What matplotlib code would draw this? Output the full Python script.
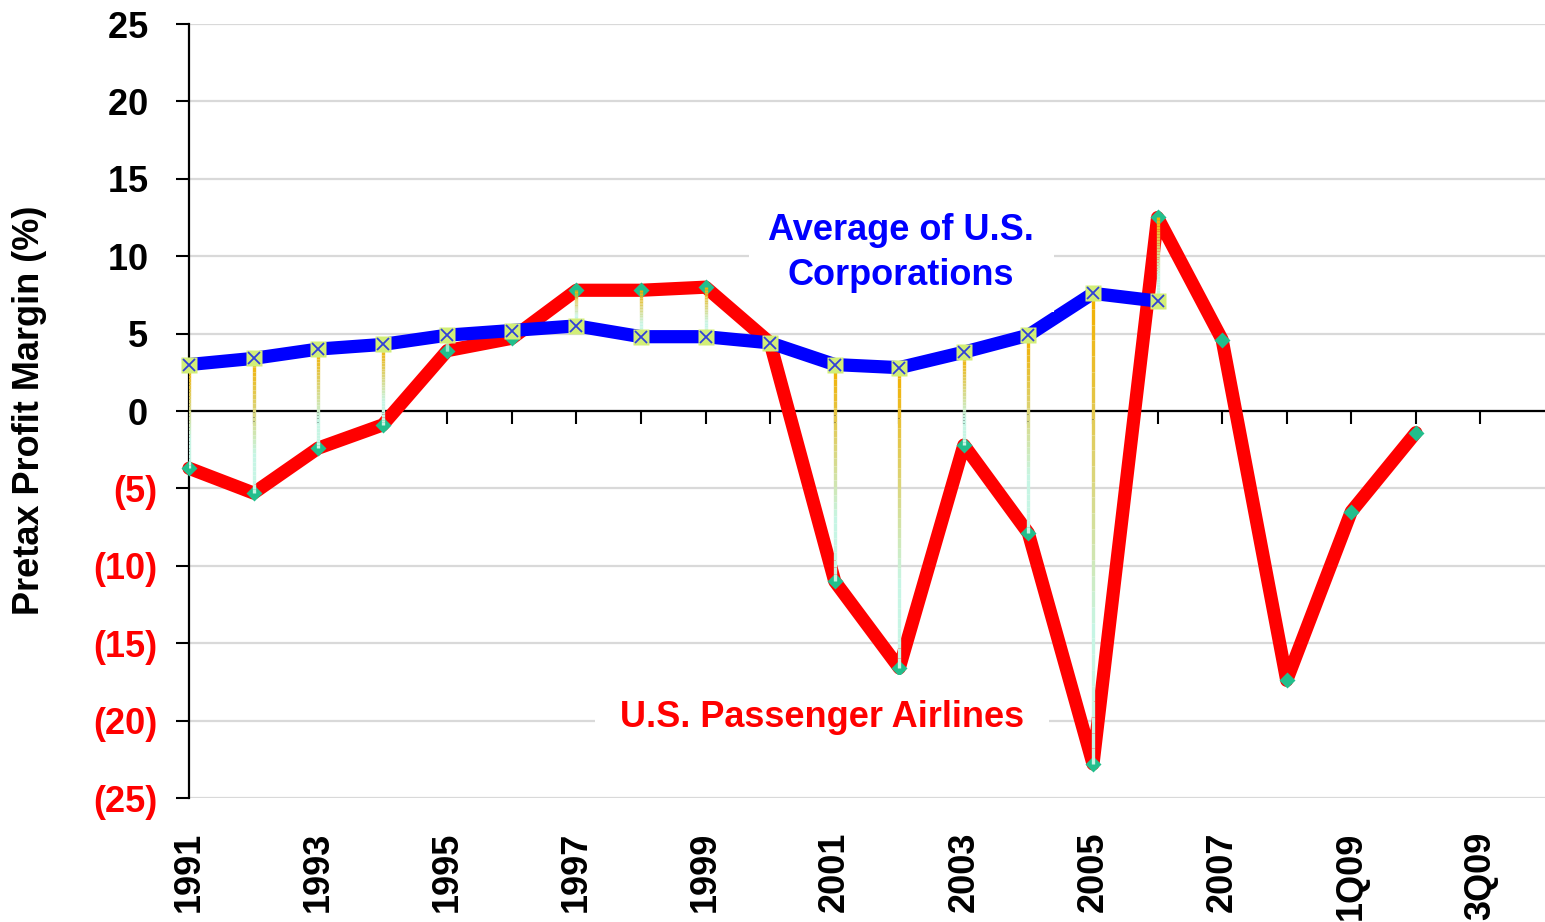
import numpy as np
import matplotlib
matplotlib.use('Agg')
import matplotlib.pyplot as plt
import matplotlib.colors as mcolors
from matplotlib.collections import LineCollection

plt.rcParams['font.family'] = ['Liberation Sans', 'DejaVu Sans']
plt.rcParams['font.weight'] = 'bold'

categories = ['1991', '1992', '1993', '1994', '1995', '1996', '1997', '1998',
              '1999', '2000', '2001', '2002', '2003', '2004', '2005', '2006',
              '2007', '2008', '1Q09', '2Q09', '3Q09']
airlines = [-3.7, -5.3, -2.4, -0.9, 3.9, 4.7, 7.8, 7.8, 8.0, 4.4,
            -11.0, -16.6, -2.2, -7.9, -22.8, 12.5, 4.6, -17.4, -6.5, -1.4]
corporations = [3.0, 3.4, 4.0, 4.3, 4.9, 5.2, 5.5, 4.8, 4.8, 4.4,
                3.0, 2.8, 3.8, 4.9, 7.6, 7.1]
y_ticks = [-25, -20, -15, -10, -5, 0, 5, 10, 15, 20, 25]

fig = plt.figure(figsize=(15.45, 9.22), dpi=100)
ax = fig.add_axes([189 / 1545, 1 - 798 / 922, (1545 - 189) / 1545, (798 - 24) / 922])

x_air = np.arange(len(airlines))
x_corp = np.arange(len(corporations))

# red series
ax.plot(x_air, airlines, color='#FF0000', lw=9.5, solid_joinstyle='round',
        solid_capstyle='round', zorder=3, clip_on=False)
ax.plot(x_air, airlines, 'D', ms=8.5, color='#22BE8C', mec='none', zorder=4,
        clip_on=False)

# blue series
ax.plot(x_corp, corporations, color='#0000FF', lw=9.5, solid_joinstyle='round',
        zorder=5, clip_on=False)

# high-low lines, gold at the top fading to mint
top_c = np.array(mcolors.to_rgb('#F2B000'))
bot_c = np.array(mcolors.to_rgb('#C6F5E4'))
segs, cols = [], []
n = 30
for i, (b, r) in enumerate(zip(corporations, airlines)):
    ys = np.linspace(max(b, r), min(b, r), n + 1)
    for k in range(n):
        segs.append([(i, ys[k]), (i, ys[k + 1])])
        t = min(1.0, k / (n - 1) * 1.4)
        cols.append(top_c * (1 - t) + bot_c * t)
ax.add_collection(LineCollection(segs, colors=cols, linewidths=2.4, zorder=6,
                                 capstyle='butt'))

ax.plot(x_corp, corporations, 's', ms=11, color='#D2EE78', mec='none', zorder=7,
        clip_on=False)
ax.plot(x_corp, corporations, 'x', ms=9, mew=1.3, color='#3040D8', zorder=8,
        clip_on=False)

# zero line with downward ticks
ax.axhline(0, color='black', lw=1.6, zorder=2)
ax.plot(np.arange(len(categories)), np.zeros(len(categories)), linestyle='none',
        marker=3, ms=9, mew=1.5, color='black', zorder=2, clip_on=False)

ax.set_xlim(0, 21)
ax.set_ylim(-25, 25)
ax.set_yticks(y_ticks)
ax.set_yticklabels(['({})'.format(-v) if v < 0 else '{} '.format(v) for v in y_ticks])
for lab, v in zip(ax.get_yticklabels(), y_ticks):
    lab.set_color('#FF0000' if v < 0 else 'black')
ax.tick_params(axis='y', direction='out', length=9.5, width=1.5, pad=13,
               labelsize=26)
ax.set_xticks(range(0, len(categories), 2))
ax.set_xticklabels(categories[::2], rotation=90)
ax.tick_params(axis='x', length=0, pad=24, labelsize=26)

ax.yaxis.grid(True, color='#D9D9D9', lw=1.6, zorder=0)
ax.set_axisbelow(True)
for s in ['top', 'right', 'bottom']:
    ax.spines[s].set_visible(False)
ax.spines['left'].set_linewidth(1.6)

fig.text(30 / 1545, 0.555, 'Pretax Profit Margin (%)', rotation=90,
         ha='center', va='center', fontsize=26, fontweight='bold')

ax.text(11.03, 10.2, 'Average of U.S.\nCorporations', ha='center', va='center',
        color='#0000FF', fontsize=26, fontweight='bold', zorder=9,
        linespacing=1.35,
        bbox=dict(facecolor='white', edgecolor='none', pad=14))
ax.text(9.81, -19.8, 'U.S. Passenger Airlines', ha='center', va='center',
        color='#FF0000', fontsize=26, fontweight='bold', zorder=9,
        bbox=dict(facecolor='white', edgecolor='none', pad=18))

fig.savefig('out.png', dpi=100)
